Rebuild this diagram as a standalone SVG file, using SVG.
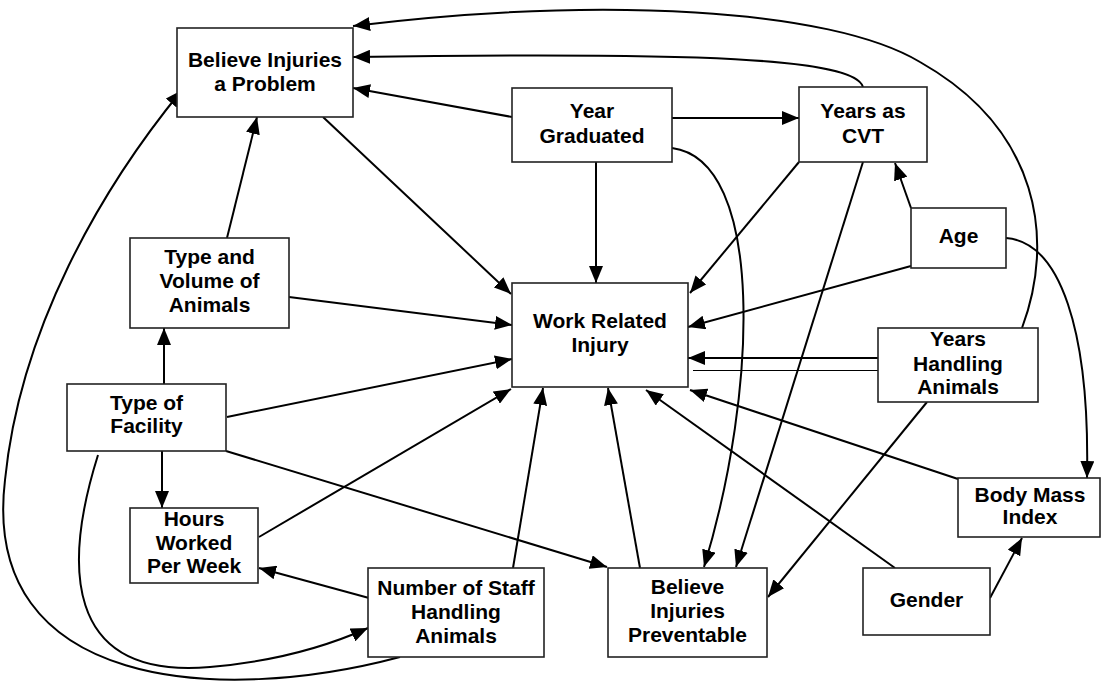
<svg xmlns="http://www.w3.org/2000/svg" width="1101" height="681" viewBox="0 0 1101 681">
<defs>
<marker id="ah" markerUnits="userSpaceOnUse" markerWidth="18" markerHeight="14" refX="17" refY="7" orient="auto">
<path d="M0,0 L17,7 L0,14 z" fill="#000"/>
</marker>
<style>
.box{fill:#fff;stroke:#222;stroke-width:1.6}
.t{font-family:"Liberation Sans",Arial,sans-serif;font-weight:bold;font-size:21px;fill:#000;text-anchor:middle}
.c{fill:none;stroke:#000;stroke-width:2}
.a{marker-end:url(#ah)}
.thin{fill:none;stroke:#000;stroke-width:1}
</style>
</defs>
<rect width="1101" height="681" fill="#fff"/>
<g id="connectors">
<path class="c a" d="M1022,328 C1055,240 1040,130 920,62 C830,8 600,-4 353,26"/>
<path class="c a" d="M863,87 C855,58 700,52 353,57"/>
<path class="c a" d="M512,117 L353,88"/>
<path class="c a" d="M672,118 L799,118"/>
<path class="c a" d="M596,162 L596,283"/>
<path class="c a" d="M323,117 L511,294"/>
<path class="c a" d="M799,162 L690,293"/>
<path class="c a" d="M911,266 L688,327"/>
<path class="c a" d="M878,358 L688,358"/>
<path class="thin" d="M693,370.5 L886,370.5"/>
<path class="c a" d="M958,479 L690,390"/>
<path class="c a" d="M895,568 L646,390"/>
<path class="c a" d="M640,568 L608,388"/>
<path class="c a" d="M513,568 L543,388"/>
<path class="c a" d="M259,537 L511,389"/>
<path class="c a" d="M227,417 L512,359"/>
<path class="c a" d="M289,297 L512,325"/>
<path class="c a" d="M227,238 L257,117"/>
<path class="c a" d="M164,384 L164,328"/>
<path class="c a" d="M162,451 L162,508"/>
<path class="c a" d="M226,451 L607,567"/>
<path class="c a" d="M369,598 L259,568"/>
<path class="c a" d="M98,455 C65,560 60,680 210,667 C280,661 330,645 368,628"/>
<path class="c a" d="M400,657 C220,705 -20,690 5,480 C20,330 100,190 182,90"/>
<path class="c a" d="M672,148 C765,160 758,390 704,567"/>
<path class="c a" d="M863,162 L736,567"/>
<path class="c a" d="M927,402 L768,597"/>
<path class="c a" d="M911,208 L895,163"/>
<path class="c a" d="M1006,238 C1060,242 1090,330 1087,478"/>
<path class="c a" d="M990,598 L1022,538"/>
</g>
<g id="n_believe_problem">
<rect class="box" x="177" y="28" width="176" height="89"/>
<text class="t" x="265" y="67">Believe Injuries</text>
<text class="t" x="265" y="91">a Problem</text>
</g>
<g id="n_year_graduated">
<rect class="box" x="512" y="88" width="160" height="74"/>
<text class="t" x="592" y="118">Year</text>
<text class="t" x="592" y="143">Graduated</text>
</g>
<g id="n_years_cvt">
<rect class="box" x="799" y="87" width="128" height="75"/>
<text class="t" x="863" y="118">Years as</text>
<text class="t" x="863" y="143">CVT</text>
</g>
<g id="n_age">
<rect class="box" x="911" y="208" width="95" height="60"/>
<text class="t" x="958.5" y="243">Age</text>
</g>
<g id="n_type_volume">
<rect class="box" x="130" y="238" width="159" height="90"/>
<text class="t" x="209.5" y="264">Type and</text>
<text class="t" x="209.5" y="288">Volume of</text>
<text class="t" x="209.5" y="312">Animals</text>
</g>
<g id="n_work_injury">
<rect class="box" x="512" y="283" width="176" height="104"/>
<text class="t" x="600" y="328">Work Related</text>
<text class="t" x="600" y="352">Injury</text>
</g>
<g id="n_years_handling">
<rect class="box" x="878" y="328" width="160" height="74"/>
<text class="t" x="958" y="346">Years</text>
<text class="t" x="958" y="371">Handling</text>
<text class="t" x="958" y="394">Animals</text>
</g>
<g id="n_type_facility">
<rect class="box" x="67" y="384" width="159" height="67"/>
<text class="t" x="146.5" y="410">Type of</text>
<text class="t" x="146.5" y="433">Facility</text>
</g>
<g id="n_bmi">
<rect class="box" x="958" y="478" width="142" height="59"/>
<text class="t" x="1030" y="502">Body Mass</text>
<text class="t" x="1030" y="524">Index</text>
</g>
<g id="n_hours">
<rect class="box" x="130" y="508" width="128" height="75"/>
<text class="t" x="194" y="526">Hours</text>
<text class="t" x="194" y="550">Worked</text>
<text class="t" x="194" y="573">Per Week</text>
</g>
<g id="n_staff">
<rect class="box" x="368" y="568" width="176" height="89"/>
<text class="t" x="456" y="595">Number of Staff</text>
<text class="t" x="456" y="619">Handling</text>
<text class="t" x="456" y="643">Animals</text>
</g>
<g id="n_believe_prev">
<rect class="box" x="608" y="568" width="159" height="89"/>
<text class="t" x="687.5" y="594">Believe</text>
<text class="t" x="687.5" y="618">Injuries</text>
<text class="t" x="687.5" y="642">Preventable</text>
</g>
<g id="n_gender">
<rect class="box" x="863" y="568" width="127" height="67"/>
<text class="t" x="926.5" y="607">Gender</text>
</g>
</svg>
